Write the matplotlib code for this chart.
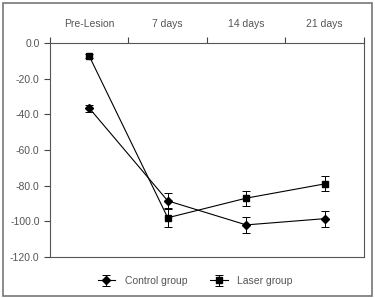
import matplotlib.pyplot as plt
from matplotlib.patches import Rectangle

categories = ["Pre-Lesion", "7 days", "14 days", "21 days"]
control = [-36.5, -88.5, -102.0, -98.5]
control_err = [2.0, 4.2, 4.7, 4.5]
laser = [-7.3, -98.0, -87.0, -79.0]
laser_err = [1.0, 4.9, 4.2, 4.2]
y_ticks = [0, -20, -40, -60, -80, -100, -120]

plt.rcParams['font.family'] = ['Liberation Sans', 'DejaVu Sans']
text_col = "#555555"

fig = plt.figure(figsize=(3.75, 2.98), dpi=100)
ax = fig.add_axes([0.1333, 0.1376, 0.8373, 0.718])

x = [i + 0.5 for i in range(len(categories))]
ax.errorbar(x, control, yerr=control_err, color="black", lw=0.8, marker="D",
            ms=4, capsize=3, elinewidth=0.7, capthick=0.7, label="Control group")
ax.errorbar(x, laser, yerr=laser_err, color="black", lw=0.8, marker="s",
            ms=4, capsize=3, elinewidth=0.7, capthick=0.7, label="Laser group")

ax.set_xlim(0, 4)
ax.set_ylim(-120, 0)
ax.set_yticks(y_ticks)
ax.set_yticklabels([f"{v:.1f}" for v in y_ticks], fontsize=7.5, color=text_col)

ax.xaxis.tick_top()
ax.set_xticks(range(5))
ax.set_xticklabels([])
ax.set_xticks(x, minor=True)
ax.set_xticklabels(categories, minor=True, fontsize=7.5, color=text_col)
ax.tick_params(axis="x", which="minor", length=0, pad=10)
ax.tick_params(axis="x", which="major", length=4, width=0.8, color="#444444")
ax.tick_params(axis="y", length=4, width=0.8, color="#444444")
for s in ax.spines.values():
    s.set_color("#555555")
    s.set_linewidth(0.8)

leg = fig.legend(loc="center", bbox_to_anchor=(0.52, 0.057), ncol=2, frameon=False,
                 fontsize=7.5, handlelength=1.7, handletextpad=0.9, columnspacing=2.2)
for t in leg.get_texts():
    t.set_color(text_col)

fig.patches.append(Rectangle((0.008, 0.008), 0.984, 0.982, transform=fig.transFigure,
                             fill=False, edgecolor="#777777", lw=1.2))

fig.savefig("out.png", dpi=100)
